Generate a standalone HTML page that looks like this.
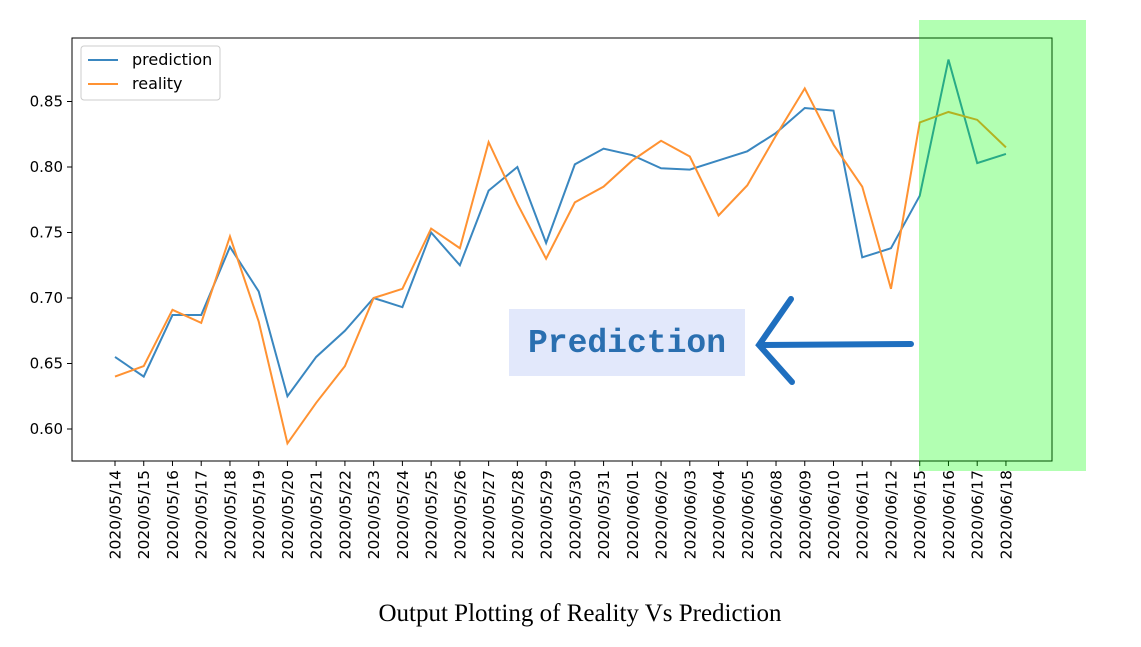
<!DOCTYPE html>
<html><head><meta charset="utf-8"><style>
body{margin:0;background:#fff;width:1141px;height:642px;overflow:hidden}
</style></head><body>
<svg id="s" width="1141" height="642" xmlns="http://www.w3.org/2000/svg" font-family="DejaVu Sans, sans-serif">
<rect x="72" y="38" width="980" height="423" fill="none" stroke="#000" stroke-width="1"/>
<g id="g"></g>
<rect x="509" y="309" width="236" height="67" fill="#e2e8fb"/>
<text x="627" y="352" text-anchor="middle" font-family="Liberation Mono, monospace" font-weight="bold" font-size="33" fill="#2a6fb0">Prediction</text>
<g stroke="#1f6fbf" stroke-width="6" stroke-linecap="round" fill="none">
<line x1="911" y1="344" x2="760" y2="345"/>
<polyline points="791,299 759,345 792,382"/>
</g>
<rect x="81" y="46" width="139" height="54" fill="#fff" stroke="#ccc" rx="3"/>
<line x1="88" y1="60" x2="118" y2="60" stroke="#3a87c0" stroke-width="2"/>
<text x="132" y="65" font-size="16">prediction</text>
<line x1="88" y1="84" x2="118" y2="84" stroke="#ff9232" stroke-width="2"/>
<text x="132" y="89" font-size="16">reality</text>
<rect x="919" y="20" width="167" height="451" fill="rgb(0,255,0)" fill-opacity="0.3"/>
<text x="580" y="621" text-anchor="middle" font-family="Liberation Serif, serif" font-size="25">Output Plotting of Reality Vs Prediction</text>
</svg>
<script>
var p=[0.655,0.640,0.687,0.687,0.739,0.705,0.625,0.655,0.675,0.700,0.693,0.750,0.725,0.782,0.800,0.742,0.802,0.814,0.809,0.799,0.798,0.805,0.812,0.826,0.845,0.843,0.731,0.738,0.778,0.882,0.803,0.810];
var r=[0.640,0.648,0.691,0.681,0.747,0.682,0.589,0.620,0.648,0.700,0.707,0.753,0.738,0.819,0.772,0.730,0.773,0.785,0.805,0.820,0.808,0.763,0.786,0.824,0.860,0.817,0.785,0.707,0.834,0.842,0.836,0.815];
var d=["05/14","05/15","05/16","05/17","05/18","05/19","05/20","05/21","05/22","05/23","05/24","05/25","05/26","05/27","05/28","05/29","05/30","05/31","06/01","06/02","06/03","06/04","06/05","06/08","06/09","06/10","06/11","06/12","06/15","06/16","06/17","06/18"];
function X(i){return 115+i*28.74}function Y(v){return 167+(0.80-v)*1310}
var h="";
[0.60,0.65,0.70,0.75,0.80,0.85].forEach(function(v){var y=Y(v);h+='<line x1="67" x2="72" y1="'+y+'" y2="'+y+'" stroke="#000"/><text x="63" y="'+(y+5)+'" text-anchor="end" font-size="15">'+v.toFixed(2)+'</text>';});
d.forEach(function(s,i){var x=X(i);h+='<line x1="'+x+'" x2="'+x+'" y1="461" y2="466" stroke="#000"/><text transform="translate('+(x+5.5)+',470) rotate(-90)" text-anchor="end" font-size="15.5">2020/'+s+'</text>';});
h+='<polyline fill="none" stroke="#3a87c0" stroke-width="2" points="'+p.map(function(v,i){return X(i)+','+Y(v)}).join(' ')+'"/>';
h+='<polyline fill="none" stroke="#ff9232" stroke-width="2" points="'+r.map(function(v,i){return X(i)+','+Y(v)}).join(' ')+'"/>';
document.getElementById("g").innerHTML=h;
</script>
</body></html>
